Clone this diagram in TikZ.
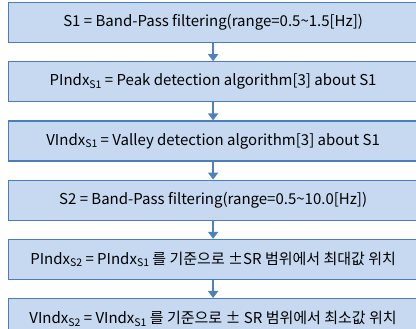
\documentclass[tikz,border=0pt]{standalone}
\usepackage{fontspec}
\setmainfont{Noto Sans CJK KR}
\usetikzlibrary{positioning}
\usetikzlibrary{arrows.meta}
\newcommand*{\boxw  }{409pt}
\newcommand*{\boxh  }{40pt}
\newcommand*{\gap   }{18pt}
\newcommand*{\subx}[1]{\raisebox{-0.35ex}{\fontsize{10.5}{12}\selectfont #1}}
\definecolor{boxfill}{HTML}{C6D9F1}
\definecolor{boxline}{HTML}{4A7EBB}
\definecolor{arrowblue}{HTML}{4F81BD}

\begin{document}
\begin{tikzpicture}[font=\fontsize{15}{18}\selectfont,
    procbox/.style={draw=boxline, fill=boxfill, line width=1.2pt, minimum width=\boxw, minimum height=\boxh, inner sep=0pt},
    flowarrow/.style={draw=arrowblue, line width=2.6pt, -{Triangle[width=10pt,length=7pt]}}]
    \useasboundingbox (0,0) rectangle (416pt,-329pt);
    \clip (0,0) rectangle (416pt,-329pt);
        \node [procbox, anchor=north west] (s1) at (8pt,-2pt) {S1 = Band-Pass filtering(range=0.5\textasciitilde 1.5[Hz])};
        \node [procbox, below=\gap of s1] (pks1) {PIndx\subx{S1} = Peak detection algorithm[3] about S1};
        \node [procbox, below=\gap of pks1] (vls1) {VIndx\subx{S1} = Valley detection algorithm[3] about S1};
        \node [procbox, below=\gap of vls1] (s2) {S2 = Band-Pass filtering(range=0.5\textasciitilde 10.0[Hz])};
        \node [procbox, below=\gap of s2] (pks2) {PIndx\subx{S2} = PIndx\subx{S1} 를 기준으로 ±SR 범위에서 최대값 위치};
        \node [procbox, below=\gap of pks2] (vls2) {VIndx\subx{S2} = VIndx\subx{S1} 를 기준으로 ± SR 범위에서 최소값 위치};
        \draw [flowarrow] (s1) -- (pks1);
        \draw [flowarrow] (pks1) -- (vls1);
        \draw [flowarrow] (vls1) -- (s2);
        \draw [flowarrow] (s2) -- (pks2);
        \draw [flowarrow] (pks2) -- (vls2);
    \end{tikzpicture}
\end{document}
